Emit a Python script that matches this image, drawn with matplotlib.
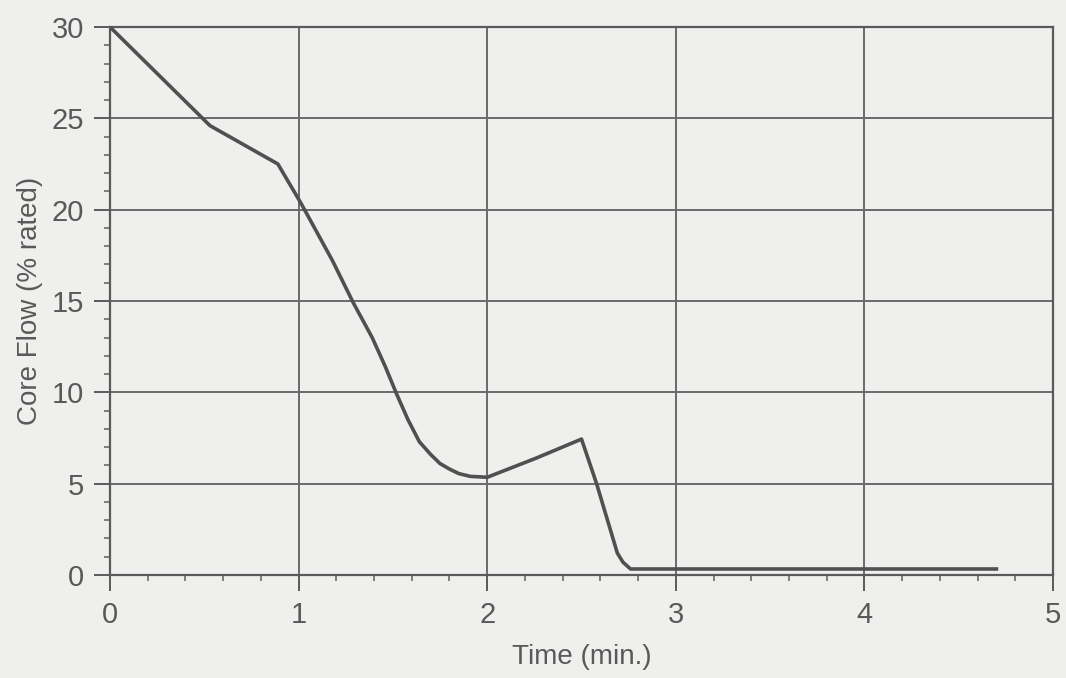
import matplotlib
matplotlib.use("Agg")
import matplotlib.pyplot as plt
from matplotlib.ticker import MultipleLocator

# core flow transient
time_min = [0.0, 0.53, 0.89, 1.01, 1.18, 1.29, 1.39, 1.46, 1.52, 1.58, 1.64,
            1.70, 1.75, 1.80, 1.85, 1.91, 2.00, 2.26, 2.50, 2.58, 2.69,
            2.72, 2.76, 4.70]
core_flow = [30.0, 24.6, 22.5, 20.4, 17.2, 14.9, 13.0, 11.4, 9.9, 8.5, 7.3,
             6.6, 6.1, 5.8, 5.55, 5.4, 5.35, 6.4, 7.44, 5.0, 1.2,
             0.7, 0.33, 0.33]

x_ticks = [0, 1, 2, 3, 4, 5]
y_ticks = [0, 5, 10, 15, 20, 25, 30]

plt.rcParams['font.family'] = ['Liberation Sans', 'DejaVu Sans']
ink = '#595959'
bg = '#efefed'

fig = plt.figure(figsize=(10.66, 6.78), dpi=100, facecolor=bg)
ax = fig.add_axes([0.1032, 0.1519, 0.8846, 0.8083])
ax.set_facecolor(bg)

ax.plot(time_min, core_flow, color='#505050', lw=2.6, solid_joinstyle='round', zorder=3)

ax.set_xlim(0, 5)
ax.set_ylim(0, 30)
ax.set_xticks(x_ticks)
ax.set_yticks(y_ticks)
ax.xaxis.set_minor_locator(MultipleLocator(0.2))
ax.yaxis.set_minor_locator(MultipleLocator(1))

ax.grid(True, which='major', color='#6a6a6a', lw=1.4)
ax.set_axisbelow(True)
for s in ax.spines.values():
    s.set_color('#5a5a5a')
    s.set_linewidth(1.6)

ax.tick_params(which='major', direction='out', length=11.5, width=1.4,
               color='#5a5a5a', labelsize=21, labelcolor=ink, pad=7)
ax.tick_params(which='minor', direction='out', length=4, width=1.2, color='#6a6a6a')

ax.set_xlabel('Time (min.)', fontsize=20, color=ink, labelpad=11)
ax.set_ylabel('Core Flow (% rated)', fontsize=20, color=ink, labelpad=6)

plt.savefig('out.png', dpi=100, facecolor=bg)
